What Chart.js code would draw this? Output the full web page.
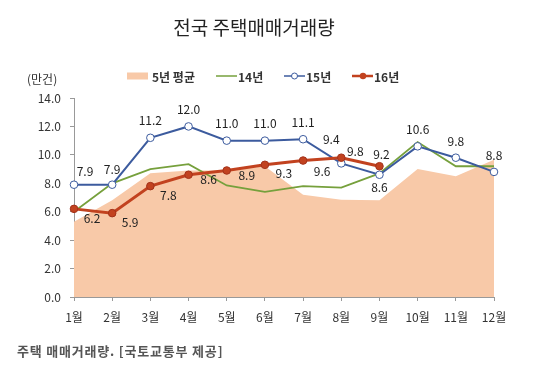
<!DOCTYPE html>
<html>
<head>
<meta charset="utf-8">
<script src="https://cdn.jsdelivr.net/npm/chart.js@4.4.1/dist/chart.umd.min.js"></script>
<style>
html, body { margin: 0; padding: 0; background: #fff; }
#wrap { width: 551px; height: 370px; position: relative; }
</style>
</head>
<body>
<div id="wrap"><canvas id="chart"></canvas></div>
<script>
// 데이터 (만건)
const months = ["1월","2월","3월","4월","5월","6월","7월","8월","9월","10월","11월","12월"];
const avg5y = [5.3, 6.8, 8.7, 8.9, 8.9, 9.2, 7.2, 6.85, 6.8, 9.0, 8.5, 9.65];
const y2014 = [6.0, 8.0, 9.0, 9.35, 7.85, 7.4, 7.8, 7.7, 8.7, 10.9, 9.2, 9.2];
const y2015 = [7.9, 7.9, 11.2, 12.0, 11.0, 11.0, 11.1, 9.4, 8.6, 10.6, 9.8, 8.8];
const y2016 = [6.2, 5.9, 7.8, 8.6, 8.9, 9.3, 9.6, 9.8, 9.2, null, null, null];
const yTicks = [0, 2, 4, 6, 8, 10, 12, 14];

const FONT = "'Noto Sans CJK KR', 'Noto Sans', sans-serif";
Chart.defaults.font.family = FONT;

const PEACH = '#f8c9a8', GREEN = '#76a03c', BLUE = '#3c5b9e', RED = '#c2421f';

// 값 라벨
const valueLabels = {
    id: 'valueLabels',
    afterDatasetsDraw(chart, args, opts) {
        const ctx = chart.ctx;
        ctx.save();
        ctx.font = '12px ' + FONT;
        ctx.fillStyle = '#222';
        ctx.textAlign = 'center';
        ctx.textBaseline = 'middle';
        opts.sets.forEach(s => {
            const meta = chart.getDatasetMeta(s.index);
            const data = chart.data.datasets[s.index].data;
            meta.data.forEach((pt, i) => {
                if (data[i] == null) return;
                const o = s.offsets[i];
                ctx.fillText(data[i].toFixed(1), pt.x + o[0], pt.y + o[1]);
            });
        });
        ctx.restore();
    }
};

// 제목, 범례, 단위, 출처
const decorations = {
    id: 'decorations',
    afterDraw(chart) {
        const ctx = chart.ctx;
        ctx.save();
        ctx.textBaseline = 'middle';

        ctx.fillStyle = '#222';
        ctx.font = '19px ' + FONT;
        ctx.textAlign = 'center';
        ctx.fillText('전국 주택매매거래량', 254, 28);

        ctx.textAlign = 'left';
        ctx.font = '12px ' + FONT;
        ctx.fillStyle = '#333';
        ctx.fillText('(만건)', 27, 79);

        // 범례
        const ly = 76;
        ctx.font = 'bold 12px ' + FONT;
        ctx.fillStyle = PEACH;
        ctx.fillRect(127, ly - 3.5, 21, 7);
        ctx.fillStyle = '#333';
        ctx.fillText('5년 평균', 152, ly + 1);

        ctx.strokeStyle = GREEN; ctx.lineWidth = 1.5;
        ctx.beginPath(); ctx.moveTo(216, ly); ctx.lineTo(237, ly); ctx.stroke();
        ctx.fillText('14년', 238, ly + 1);

        ctx.strokeStyle = BLUE; ctx.lineWidth = 1.5;
        ctx.beginPath(); ctx.moveTo(284, ly); ctx.lineTo(305, ly); ctx.stroke();
        ctx.beginPath(); ctx.arc(294.5, ly, 3, 0, Math.PI * 2);
        ctx.fillStyle = '#fff'; ctx.fill(); ctx.lineWidth = 1; ctx.stroke();
        ctx.fillStyle = '#333';
        ctx.fillText('15년', 306, ly + 1);

        ctx.strokeStyle = RED; ctx.lineWidth = 2.5;
        ctx.beginPath(); ctx.moveTo(352, ly); ctx.lineTo(373, ly); ctx.stroke();
        ctx.beginPath(); ctx.arc(363, ly, 3.2, 0, Math.PI * 2);
        ctx.fillStyle = RED; ctx.fill();
        ctx.fillStyle = '#333';
        ctx.fillText('16년', 374, ly + 1);

        // 출처
        ctx.font = 'bold 13px ' + FONT;
        ctx.fillStyle = '#555';
        ctx.letterSpacing = '0.8px';
        ctx.fillText('주택 매매거래량. [국토교통부 제공]', 17, 351);
        ctx.restore();
    }
};

new Chart(document.getElementById('chart'), {
    type: 'line',
    data: {
        labels: months,
        datasets: [
            {
                label: '16년',
                data: y2016,
                borderColor: RED,
                borderWidth: 3,
                pointRadius: 3.8,
                pointBackgroundColor: RED,
                pointBorderColor: '#a3321a',
                pointBorderWidth: 1,
                tension: 0,
                order: 1
            },
            {
                label: '15년',
                data: y2015,
                borderColor: BLUE,
                borderWidth: 2,
                pointRadius: 3.8,
                pointBackgroundColor: '#fff',
                pointBorderColor: BLUE,
                pointBorderWidth: 1,
                tension: 0,
                order: 2
            },
            {
                label: '14년',
                data: y2014,
                borderColor: GREEN,
                borderWidth: 1.8,
                pointRadius: 0,
                tension: 0,
                order: 3
            },
            {
                label: '5년 평균',
                data: avg5y,
                borderWidth: 0,
                borderColor: 'rgba(0,0,0,0)',
                backgroundColor: PEACH,
                fill: 'origin',
                pointRadius: 0,
                tension: 0,
                order: 4
            }
        ]
    },
    options: {
        responsive: true,
        maintainAspectRatio: false,
        animation: false,
        layout: { padding: { top: 98, right: 57, bottom: 43, left: 0 } },
        plugins: {
            legend: { display: false },
            title: { display: false },
            tooltip: { enabled: false },
            valueLabels: {
                sets: [
                    { index: 1, offsets: [[11,-13],[0,-15],[0,-17],[0,-17],[0,-17],[0,-17],[0,-17],[-10,-24],[0,13],[0,-17],[0,-16],[0,-16]] },
                    { index: 0, offsets: [[18,10],[18,9],[18,9],[20,5],[20,5],[19,9],[19,11],[14,-6],[2,-12]] }
                ]
            }
        },
        scales: {
            x: {
                offset: false,
                grid: { display: true, drawOnChartArea: false, drawTicks: true, tickLength: 4, color: '#999' },
                border: { display: true, color: '#999' },
                ticks: { color: '#333', font: { size: 12 }, padding: 9, maxRotation: 0, autoSkip: false },
                afterFit(scale) { scale.height = 30; }
            },
            y: {
                min: 0,
                max: 14,
                afterBuildTicks(scale) { scale.ticks = yTicks.map(v => ({ value: v })); },
                grid: { display: true, drawOnChartArea: false, drawTicks: true, tickLength: 4, color: '#999' },
                border: { display: true, color: '#999' },
                ticks: { color: '#333', font: { size: 12 }, padding: 9, callback: v => v.toFixed(1) },
                afterFit(scale) { scale.width = 74; }
            }
        }
    },
    plugins: [valueLabels, decorations]
});
</script>
</body>
</html>
